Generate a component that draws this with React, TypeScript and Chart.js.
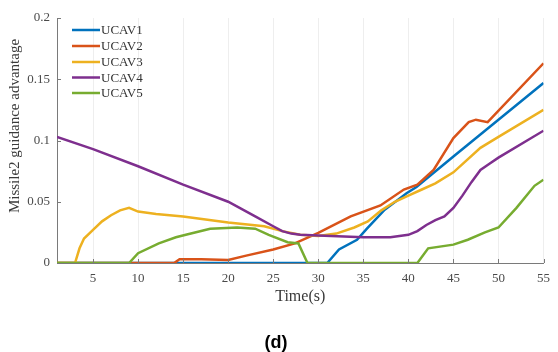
import React, { useEffect, useRef } from "react";
import { Chart, registerables } from "chart.js";

Chart.register(...registerables);

const seriesNames = ["UCAV1", "UCAV2", "UCAV3", "UCAV4", "UCAV5"];
const seriesColors = ["#0072BD", "#D95319", "#EDB120", "#7E2F8E", "#77AC30"];

const xTicks = [5, 10, 15, 20, 25, 30, 35, 40, 45, 50, 55];
const yTicks = [0, 0.05, 0.1, 0.15, 0.2];

const time1 = [1, 31, 32.3, 34.3, 35.4, 37.3, 39.8, 40.9, 45, 50, 55];
const ucav1 = [0, 0, 0.011, 0.019, 0.028, 0.043, 0.057, 0.062, 0.087, 0.117, 0.147];

const time2 = [1, 14, 14.6, 17, 20, 22, 25, 27.4, 30, 33.6, 36.9, 39.5, 41, 42.8, 45, 46.7, 47.5, 48.8, 55];
const ucav2 = [0, 0, 0.003, 0.003, 0.0025, 0.006, 0.011, 0.016, 0.0245, 0.038, 0.047, 0.06, 0.064, 0.076, 0.102, 0.115, 0.117, 0.115, 0.163];

const time3 = [1, 3, 3.5, 4, 5, 6, 7, 8, 9, 10, 11, 12, 15, 20, 24, 26, 28, 30, 32, 34, 35.5, 37, 38.5, 40, 41.5, 43, 45, 48, 50, 55];
const ucav3 = [0, 0, 0.012, 0.02, 0.027, 0.034, 0.039, 0.043, 0.045, 0.042, 0.041, 0.04, 0.038, 0.033, 0.03, 0.026, 0.023, 0.022, 0.024, 0.029, 0.034, 0.043, 0.05, 0.055, 0.06, 0.065, 0.074, 0.094, 0.103, 0.125];

const time4 = [1, 5, 10, 15, 20, 23, 25, 26, 27, 28, 30, 35, 38, 40, 41, 42, 43, 44, 45, 46, 47, 48, 49, 50, 55];
const ucav4 = [0.103, 0.093, 0.079, 0.064, 0.05, 0.038, 0.03, 0.026, 0.024, 0.023, 0.0225, 0.021, 0.021, 0.023, 0.026, 0.031, 0.035, 0.038, 0.045, 0.055, 0.066, 0.076, 0.081, 0.086, 0.108];

const time5 = [1, 9, 10, 12.3, 14.2, 15.3, 18, 21, 23, 24.5, 26.6, 27.8, 28.8, 41, 42.2, 45, 46.6, 48.5, 50, 52, 54, 55];
const ucav5 = [0, 0, 0.008, 0.016, 0.021, 0.023, 0.028, 0.029, 0.028, 0.023, 0.017, 0.016, 0, 0, 0.012, 0.015, 0.019, 0.025, 0.029, 0.045, 0.063, 0.068];

const allTimes = [time1, time2, time3, time4, time5];
const allValues = [ucav1, ucav2, ucav3, ucav4, ucav5];

const xTitle = "Time(s)";
const yTitle = "Missile2 guidance advantage";
const FONT = "'Liberation Serif', 'Times New Roman', serif";

const decorPlugin = {
  id: "decor",
  afterDraw(chart: any) {
    const { ctx, chartArea, scales } = chart;
    const { left, right, top, bottom } = chartArea;
    ctx.save();
    ctx.strokeStyle = "#7a7a7a";
    ctx.lineWidth = 1;
    ctx.beginPath();
    for (const v of xTicks) {
      const px = Math.round(scales.x.getPixelForValue(v)) + 0.5;
      ctx.moveTo(px, bottom);
      ctx.lineTo(px, bottom - 4);
    }
    for (const v of yTicks) {
      const py = Math.round(scales.y.getPixelForValue(v)) + 0.5;
      ctx.moveTo(left, py);
      ctx.lineTo(left + 4, py);
    }
    ctx.stroke();

    // y title
    ctx.fillStyle = "#3a3a3a";
    ctx.font = "15px " + FONT;
    ctx.textAlign = "center";
    ctx.textBaseline = "middle";
    ctx.save();
    ctx.translate(15, 126);
    ctx.rotate(-Math.PI / 2);
    ctx.fillText(yTitle, 0, 0);
    ctx.restore();

    // x title
    ctx.font = "16px " + FONT;
    ctx.fillText(xTitle, (left + right) / 2, 297);

    // legend
    ctx.font = "13px " + FONT;
    ctx.textAlign = "left";
    const rowY = [30, 46, 62, 77.5, 93];
    seriesNames.forEach((name, i) => {
      const y = rowY[i];
      ctx.strokeStyle = seriesColors[i];
      ctx.lineWidth = 2.5;
      ctx.beginPath();
      ctx.moveTo(72, y);
      ctx.lineTo(100, y);
      ctx.stroke();
      ctx.fillStyle = "#333";
      ctx.fillText(name, 101, y + 1);
    });
    ctx.restore();
  },
};

export default function App() {
  const ref = useRef<HTMLCanvasElement>(null);

  useEffect(() => {
    if (!ref.current) return;
    const datasets = seriesNames.map((name, i) => ({
      label: name,
      data: allTimes[i].map((t, j) => ({ x: t, y: allValues[i][j] })),
      borderColor: seriesColors[i],
      backgroundColor: seriesColors[i],
      borderWidth: 2.5,
      pointRadius: 0,
      tension: 0,
      fill: false,
      order: 4 - i,
    }));
    const chart = new Chart(ref.current, {
      type: "line",
      data: { datasets },
      plugins: [decorPlugin],
      options: {
        animation: false,
        responsive: false,
        devicePixelRatio: 1,
        layout: { padding: { left: 0, top: 18, right: 10, bottom: 59 } },
        plugins: { legend: { display: false }, tooltip: { enabled: false } },
        scales: {
          x: {
            type: "linear",
            min: 1,
            max: 55,
            afterBuildTicks: (s: any) => {
              s.ticks = xTicks.map((v) => ({ value: v }));
            },
            afterFit: (s: any) => {
              s.height = 30;
            },
            grid: { display: true, color: "#eeeeee", drawTicks: false },
            border: { display: true, color: "#7a7a7a" },
            ticks: {
              padding: 8,
              color: "#4a4a4a",
              font: { family: FONT, size: 13 },
              maxRotation: 0,
            },
          },
          y: {
            type: "linear",
            min: 0,
            max: 0.2,
            afterBuildTicks: (s: any) => {
              s.ticks = yTicks.map((v) => ({ value: v }));
            },
            afterFit: (s: any) => {
              s.width = 57;
            },
            grid: { display: false, drawTicks: false },
            border: { display: true, color: "#7a7a7a" },
            ticks: {
              padding: 7,
              color: "#4a4a4a",
              font: { family: FONT, size: 13 },
              callback: (v: any) => String(parseFloat(Number(v).toFixed(3))),
            },
          },
        },
      },
    });
    return () => chart.destroy();
  }, []);

  return (
    <div style={{ position: "absolute", left: 0, top: 0, width: 558, height: 352, background: "#fff" }}>
      <canvas ref={ref} width={558} height={352} style={{ width: 558, height: 352, display: "block" }} />
      <div
        style={{
          position: "absolute",
          left: 0,
          top: 332,
          width: 552,
          textAlign: "center",
          font: "bold 18px 'Liberation Sans', Arial, sans-serif",
          lineHeight: "20px",
          color: "#000",
        }}
      >
        (d)
      </div>
    </div>
  );
}
